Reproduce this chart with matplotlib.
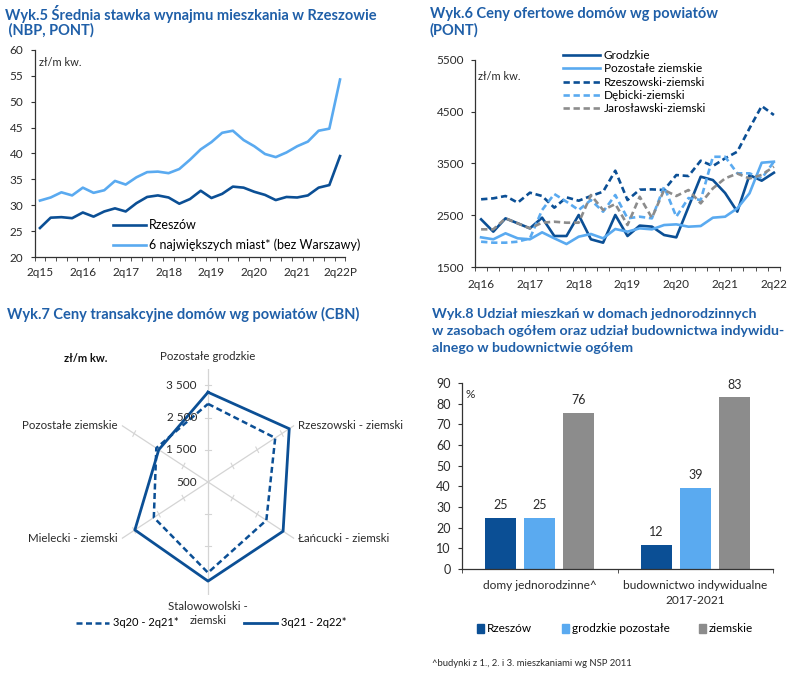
import numpy as np
import matplotlib
matplotlib.use('Agg')
import matplotlib.pyplot as plt
from matplotlib.lines import Line2D
from matplotlib.patches import Patch
import matplotlib.transforms as mtransforms

# ---------------- data ----------------
# Wyk.5
q5_labels = ['2q15', '2q16', '2q17', '2q18', '2q19', '2q20', '2q21', '2q22P']
rzeszow = [25.6, 27.6, 27.7, 27.5, 28.6, 27.8, 28.8, 29.4, 28.8, 30.4, 31.6, 31.9, 31.5, 30.3,
           31.2, 32.8, 31.4, 32.2, 33.6, 33.4, 32.6, 32.0, 31.0, 31.6, 31.5, 31.9, 33.4, 33.9, 39.5]
six_cities = [30.9, 31.5, 32.5, 31.9, 33.4, 32.4, 32.9, 34.7, 34.0, 35.4, 36.4, 36.5, 36.2, 37.0,
              38.8, 40.8, 42.2, 44.0, 44.4, 42.6, 41.4, 39.9, 39.3, 40.2, 41.4, 42.3, 44.4, 44.8, 54.3]

# Wyk.6
q6_labels = ['2q16', '2q17', '2q18', '2q19', '2q20', '2q21', '2q22']
grodzkie = [2421, 2183, 2440, 2344, 2247, 2453, 2099, 2099, 2505, 2035, 1970, 2505, 2099,
            2300, 2280, 2118, 2073, 2660, 3245, 3180, 2930, 2570, 3277, 3168, 3322]
pozostale_ziemskie = [2073, 2035, 2151, 2054, 2035, 2170, 2054, 1944, 2086, 2138, 2054, 2234,
                      2183, 2247, 2228, 2311, 2324, 2279, 2292, 2453, 2472, 2634, 2924, 3515, 3535]
rzeszowski_ziemski = [2808, 2827, 2872, 2743, 2936, 2872, 2646, 2846, 2781, 2872, 2955, 3361,
                      2794, 2995, 3000, 2988, 3277, 3258, 3554, 3451, 3600, 3728, 4180, 4610, 4437]
debicki_ziemski = [1989, 1970, 1970, 1989, 2054, 2601, 2910, 2762, 2601, 2794, 2569, 2891,
                   2440, 2472, 2440, 3052, 2472, 2833, 2794, 3630, 3630, 3310, 3310, 3213, 3535]
jaroslawski_ziemski = [2228, 2228, 2440, 2344, 2247, 2356, 2375, 2356, 2356, 2891, 2601, 2717,
                       2311, 2858, 2450, 2988, 2872, 2988, 2730, 3020, 3213, 3306, 3210, 3280, 3440]

# Wyk.7
radar_cats = ['Pozostałe grodzkie', 'Rzeszowski - ziemski', 'Łańcucki - ziemski',
              'Stalowowolski -\nziemski', 'Mielecki - ziemski', 'Pozostałe ziemskie']
radar_prev = [2920, 3230, 2870, 3310, 2700, 2600]   # 3q20 - 2q21*
radar_curr = [3280, 3800, 3550, 3570, 3470, 2500]   # 3q21 - 2q22*
radar_ticks = [500, 1500, 2500, 3500]
radar_series = ['3q20 - 2q21*', '3q21 - 2q22*']

# Wyk.8
bar_cats = ['domy jednorodzinne^', 'budownictwo indywidualne\n2017-2021']
bar_series = ['Rzeszów', 'grodzkie pozostałe', 'ziemskie']
bar_rzeszow = [24.6, 11.6]
bar_grodzkie = [24.9, 39.4]
bar_ziemskie = [75.6, 83.0]

# ---------------- style ----------------
W, H = 797, 673
plt.rcParams['font.family'] = ['Lato', 'DejaVu Sans']
plt.rcParams['font.size'] = 8.5
plt.rcParams['axes.linewidth'] = 0.9

DARK = '#0b4f95'
LIGHT = '#5aaaf0'
GRAY = '#8c8c8c'
TITLE = '#1f5fa8'
TXT = '#2a2a2a'
AXC = '#333333'

fig = plt.figure(figsize=(W / 100, H / 100), dpi=100)


def px_axes(l, t, r, b, **kw):
    return fig.add_axes([l / W, 1 - b / H, (r - l) / W, (b - t) / H], **kw)


def ftext(x, y, s, **kw):
    kw.setdefault('va', 'center')
    kw.setdefault('color', TXT)
    return fig.text(x / W, 1 - y / H, s, **kw)


def title(x, y, s, size=10.5):
    ftext(x, y, s, ha='left', fontsize=size, fontweight='bold', color=TITLE)


def style_axes(ax):
    for s in ['top', 'right']:
        ax.spines[s].set_visible(False)
    for s in ['left', 'bottom']:
        ax.spines[s].set_color(AXC)
    ax.tick_params(colors=AXC, labelcolor=TXT, labelsize=8.5)


# ---------------- Wyk.5 ----------------
title(5, 14, 'Wyk.5 Średnia stawka wynajmu mieszkania w Rzeszowie')
title(5, 30, ' (NBP, PONT)')
ax5 = px_axes(34.6, 50, 345.4, 257)
x5 = np.arange(len(rzeszow))
ax5.plot(x5, rzeszow, color=DARK, lw=1.9, label='Rzeszów')
ax5.plot(x5, six_cities, color=LIGHT, lw=1.9, label='6 największych miast* (bez Warszawy)')
ax5.set_xlim(-0.5, len(x5) - 0.5)
ax5.set_ylim(20, 60)
ax5.set_yticks(np.arange(20, 61, 5))
ax5.set_xticks(x5[::4])
ax5.set_xticklabels(q5_labels)
ax5.set_xticks(np.arange(-0.5, len(x5)), minor=True)
style_axes(ax5)
ax5.tick_params(axis='x', which='major', length=0, pad=7.5)
ax5.tick_params(axis='x', which='minor', length=3, direction='out', color=AXC)
ax5.tick_params(axis='y', length=3, direction='out', pad=5)
ax5.text(0.015, 0.94, 'zł/m kw.', transform=ax5.transAxes, fontsize=8, color=TXT, va='center')
ax5.legend(loc='upper left', bbox_to_anchor=(113 / W, 1 - 219 / H), bbox_transform=fig.transFigure,
           frameon=False, fontsize=9, handlelength=2.6, handletextpad=0.3, labelspacing=0.6,
           borderpad=0, borderaxespad=0)

# ---------------- Wyk.6 ----------------
title(430, 14, 'Wyk.6 Ceny ofertowe domów wg powiatów')
title(430, 30, '(PONT)')
ax6 = px_axes(475, 60, 780, 267)
x6 = np.arange(len(grodzkie))
dash = (0, (2.4, 1.4))
ax6.plot(x6, grodzkie, color=DARK, lw=1.9, label='Grodzkie')
ax6.plot(x6, pozostale_ziemskie, color=LIGHT, lw=1.9, label='Pozostałe ziemskie')
ax6.plot(x6, rzeszowski_ziemski, color=DARK, lw=1.9, ls=dash, label='Rzeszowski-ziemski')
ax6.plot(x6, debicki_ziemski, color=LIGHT, lw=1.9, ls=dash, label='Dębicki-ziemski')
ax6.plot(x6, jaroslawski_ziemski, color=GRAY, lw=1.9, ls=dash, label='Jarosławski-ziemski')
ax6.set_xlim(-0.5, len(x6) - 0.5)
ax6.set_ylim(1500, 5500)
ax6.set_yticks([1500, 2500, 3500, 4500, 5500])
ax6.set_xticks(x6[::4])
ax6.set_xticklabels(q6_labels)
ax6.set_xticks(np.arange(-0.5, len(x6)), minor=True)
style_axes(ax6)
ax6.tick_params(axis='x', which='major', length=0, pad=9)
ax6.tick_params(axis='x', which='minor', length=3, direction='out', color=AXC)
ax6.tick_params(axis='y', length=3, direction='out', pad=5)
ax6.text(0.01, 0.92, 'zł/m kw.', transform=ax6.transAxes, fontsize=8, color=TXT, va='center')
ax6.legend(loc='upper left', bbox_to_anchor=(563 / W, 1 - 50 / H), bbox_transform=fig.transFigure,
           frameon=False, fontsize=8.5, handlelength=3.1, handletextpad=0.35, labelspacing=0.2,
           borderpad=0, borderaxespad=0)

# ---------------- Wyk.7 ----------------
title(7, 314, 'Wyk.7 Ceny transakcyjne domów wg powiatów (CBN)')
cx, cy, hw, hh = 208, 482, 99.5, 113
ax7 = fig.add_axes([(cx - hw) / W, 1 - (cy + hh) / H, 2 * hw / W, 2 * hh / H], projection='polar')
ax7.set_aspect('auto')
ax7.set_theta_offset(np.pi / 2)
ax7.set_theta_direction(-1)
theta = np.linspace(0, 2 * np.pi, len(radar_cats), endpoint=False)
th_c = np.append(theta, theta[0])
ax7.set_ylim(500, 4000)
ax7.set_xticks(theta)
ax7.set_xticklabels([])
ax7.set_yticks([])
ax7.xaxis.grid(True, color='#d4d4d4', lw=0.9)
ax7.spines['polar'].set_visible(False)
ax7.patch.set_alpha(0)
for t in theta:
    for r in radar_ticks[1:]:
        d = 3.0 / ((r - 500) * 0.031)
        ax7.plot([t - d, t + d], [r, r], color='#d4d4d4', lw=0.8)
ax7.plot(th_c, np.append(radar_prev, radar_prev[0]), color=DARK, lw=1.8, ls=(0, (2.4, 1.4)),
         label=radar_series[0])
ax7.plot(th_c, np.append(radar_curr, radar_curr[0]), color=DARK, lw=2.0, label=radar_series[1])
lab_tr = mtransforms.offset_copy(ax7.transData, fig=fig, x=-11, y=0, units='dots')
for v in radar_ticks:
    ax7.text(0, v, f'{v:,}'.replace(',', ' '), transform=lab_tr, ha='right', va='center',
             fontsize=8.5, color=TXT)
cat_pos = [(0, 12, 'center', 'center'), (4, 0, 'left', 'center'), (4, 0, 'left', 'center'),
           (0, -11, 'center', 'center'), (-4, 0, 'right', 'center'), (-4, 0, 'right', 'center')]
for t, name, (dx, dy, ha, va) in zip(theta, radar_cats, cat_pos):
    for k, line in enumerate(name.split('\n')):
        tr = mtransforms.offset_copy(ax7.transData, fig=fig, x=dx, y=dy - 15 * k, units='dots')
        ax7.text(t, 4000, line, transform=tr, ha=ha, va=va, fontsize=8.3, color=TXT)
ftext(86, 358, 'zł/m kw.', ha='center', fontsize=8, fontweight='bold', color='#111111')
h7 = [Line2D([], [], color=DARK, lw=1.8, ls=(0, (2.4, 1.4))), Line2D([], [], color=DARK, lw=2.0)]
for h, lab, x0 in zip(h7, radar_series, [76, 244]):
    fig.legend([h], [lab], loc='center left', bbox_to_anchor=(x0 / W, 1 - 623 / H),
               frameon=False, fontsize=8, handlelength=3.0, handletextpad=0.35,
               borderpad=0, borderaxespad=0)

# ---------------- Wyk.8 ----------------
title(432, 314, 'Wyk.8 Udział mieszkań w domach jednorodzinnych', 10.2)
title(432, 331, 'w zasobach ogółem oraz udział budownictwa indywidu-', 10.2)
title(432, 348, 'alnego w budownictwie ogółem', 10.2)
ax8 = px_axes(462, 383, 773, 569)
xb = np.arange(len(bar_cats))
for off, vals, col, name in zip([-0.25, 0, 0.25], [bar_rzeszow, bar_grodzkie, bar_ziemskie],
                                [DARK, LIGHT, GRAY], bar_series):
    bars = ax8.bar(xb + off, vals, width=0.2, color=col, label=name)
    for b, v in zip(bars, vals):
        ax8.annotate(f'{v:.0f}', (b.get_x() + b.get_width() / 2, v), xytext=(0, 5),
                     textcoords='offset points', ha='center', va='bottom', fontsize=9, color=TXT)
ax8.set_xlim(-0.5, len(bar_cats) - 0.5)
ax8.set_ylim(0, 90)
ax8.set_yticks(np.arange(0, 91, 10))
ax8.set_xticks(xb)
ax8.set_xticklabels(bar_cats, linespacing=1.4)
ax8.set_xticks(np.arange(-0.5, len(bar_cats)), minor=True)
style_axes(ax8)
ax8.tick_params(axis='x', which='major', length=0, pad=8, labelsize=8.6)
ax8.tick_params(axis='x', which='minor', length=3, direction='out', color=AXC)
ax8.tick_params(axis='y', length=3, direction='out', pad=5, labelsize=9)
ftext(465, 395, '%', ha='left', fontsize=8.5)
h8 = [Patch(color=c) for c in [DARK, LIGHT, GRAY]]
fig.legend(h8, bar_series, loc='center left', bbox_to_anchor=(477 / W, 1 - 629 / H), ncol=3,
           frameon=False, fontsize=8.5, handlelength=0.6, handleheight=0.75, handletextpad=0.25,
           columnspacing=2.5, borderpad=0, borderaxespad=0)
ftext(432, 664, '^budynki z 1., 2. i 3. mieszkaniami wg NSP 2011', ha='left', fontsize=6.8)

fig.savefig('out.png', dpi=100)
